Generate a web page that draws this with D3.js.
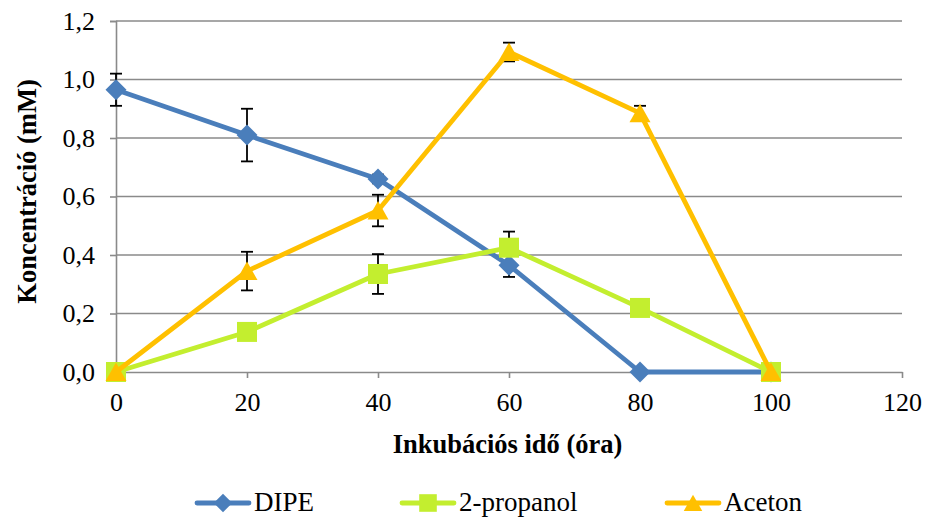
<!DOCTYPE html>
<html>
<head>
<meta charset="utf-8">
<script src="https://cdn.jsdelivr.net/npm/d3@7"></script>
<style>
  html, body { margin: 0; padding: 0; background: #fff; }
  svg { display: block; }
</style>
</head>
<body>
<svg id="chart" width="925" height="517"></svg>
<script>
// Incubation time (hours)
const hours = [0, 20, 40, 60, 80, 100];

// Concentrations (mM) and standard deviations per compound
const dipe = [0.965, 0.81, 0.66, 0.365, 0, 0];
const dipeErr = [0.055, 0.09, 0.015, 0.04, 0, 0];

const propanol = [0, 0.137, 0.335, 0.425, 0.219, 0];
const propanolErr = [0, 0, 0.068, 0.055, 0, 0];

const aceton = [0, 0.345, 0.552, 1.094, 0.885, 0];
const acetonErr = [0, 0.066, 0.054, 0.032, 0.025, 0];

const xTicks = [0, 20, 40, 60, 80, 100, 120];
const yTicks = [0, 0.2, 0.4, 0.6, 0.8, 1.0, 1.2];

const series = [
  { name: "DIPE", values: dipe, err: dipeErr, color: "#4a7ebb", marker: "diamond" },
  { name: "2-propanol", values: propanol, err: propanolErr, color: "#c3ee2f", marker: "square" },
  { name: "Aceton", values: aceton, err: acetonErr, color: "#ffc000", marker: "triangle" }
];

const FONT = "Liberation Serif";
const GRID = "#8a8a8a";
const svg = d3.select("#chart");
const plotLeft = 116, plotRight = 902, plotTop = 21, plotBottom = 372;

const x = d3.scaleLinear().domain([0, 120]).range([plotLeft, plotRight]);
const y = d3.scaleLinear().domain([0, 1.2]).range([plotBottom, plotTop]);

const fmt = v => d3.format(".1f")(v).replace(".", ",");

// Horizontal gridlines
svg.append("g")
  .selectAll("line")
  .data(yTicks.slice(1))
  .join("line")
  .attr("x1", plotLeft).attr("x2", plotRight)
  .attr("y1", d => y(d)).attr("y2", d => y(d))
  .attr("stroke", GRID).attr("stroke-width", 1.6);

// Y axis
const yAxis = svg.append("g")
  .attr("transform", `translate(${plotLeft},0)`)
  .call(d3.axisLeft(y).tickValues(yTicks).tickFormat(fmt).tickSize(6).tickPadding(15));
yAxis.select(".domain").attr("stroke", GRID).attr("stroke-width", 1.6);
yAxis.selectAll(".tick line").attr("stroke", GRID).attr("stroke-width", 1.6);
yAxis.selectAll("text").style("font-family", FONT).style("font-size", "26px").attr("fill", "#000");

// X axis
const xAxis = svg.append("g")
  .attr("transform", `translate(0,${plotBottom})`)
  .call(d3.axisBottom(x).tickValues(xTicks).tickSize(6).tickPadding(15).tickSizeOuter(0));
xAxis.select(".domain").attr("stroke", GRID).attr("stroke-width", 1.6);
xAxis.selectAll(".tick line").attr("stroke", GRID).attr("stroke-width", 1.6);
xAxis.selectAll("text").style("font-family", FONT).style("font-size", "26px").attr("fill", "#000");

// Axis titles
svg.append("text")
  .attr("x", 507.5).attr("y", 453)
  .attr("text-anchor", "middle")
  .style("font-family", FONT).style("font-size", "26.5px").style("font-weight", "bold")
  .text("Inkubációs idő (óra)");

svg.append("text")
  .attr("transform", "translate(36,191.5) rotate(-90)")
  .attr("text-anchor", "middle")
  .style("font-family", FONT).style("font-size", "26.5px").style("font-weight", "bold")
  .text("Koncentráció (mM)");

// Marker shapes
function markerPath(type) {
  if (type === "diamond") return "M0,-10.5L10.5,0L0,10.5L-10.5,0Z";
  if (type === "square") return "M-10,-10H10V10H-10Z";
  return "M0,-9.5L10.5,9L-10.5,9Z";
}

const line = d3.line().x((d, i) => x(hours[i])).y(d => y(d));

// Error bars
series.forEach(s => {
  const g = svg.append("g").attr("stroke", "#000").attr("stroke-width", 1.8);
  hours.forEach((h, i) => {
    const e = s.err[i];
    if (!e) return;
    const cx = x(h), y1 = y(s.values[i] + e), y2 = y(s.values[i] - e);
    g.append("line").attr("x1", cx).attr("x2", cx).attr("y1", y1).attr("y2", y2);
    g.append("line").attr("x1", cx - 6).attr("x2", cx + 6).attr("y1", y1).attr("y2", y1);
    g.append("line").attr("x1", cx - 6).attr("x2", cx + 6).attr("y1", y2).attr("y2", y2);
  });
});

// Lines and markers
series.forEach(s => {
  svg.append("path")
    .attr("d", line(s.values))
    .attr("fill", "none")
    .attr("stroke", s.color)
    .attr("stroke-width", 4.8)
    .attr("stroke-linejoin", "round");
  svg.append("g")
    .selectAll("path")
    .data(s.values)
    .join("path")
    .attr("transform", (d, i) => `translate(${x(hours[i])},${y(d)})`)
    .attr("d", markerPath(s.marker))
    .attr("fill", s.color);
});

// Legend
const legendX = [195, 400, 665];
series.forEach((s, i) => {
  const g = svg.append("g").attr("transform", `translate(${legendX[i]},503)`);
  g.append("line").attr("x1", 2).attr("x2", 54).attr("y1", 0).attr("y2", 0)
    .attr("stroke", s.color).attr("stroke-width", 4.8).attr("stroke-linecap", "round");
  g.append("path").attr("transform", "translate(28,0) scale(0.88)")
    .attr("d", markerPath(s.marker)).attr("fill", s.color);
  g.append("text").attr("x", 59).attr("y", 8)
    .style("font-family", FONT).style("font-size", "27px").text(s.name);
});
</script>
</body>
</html>
